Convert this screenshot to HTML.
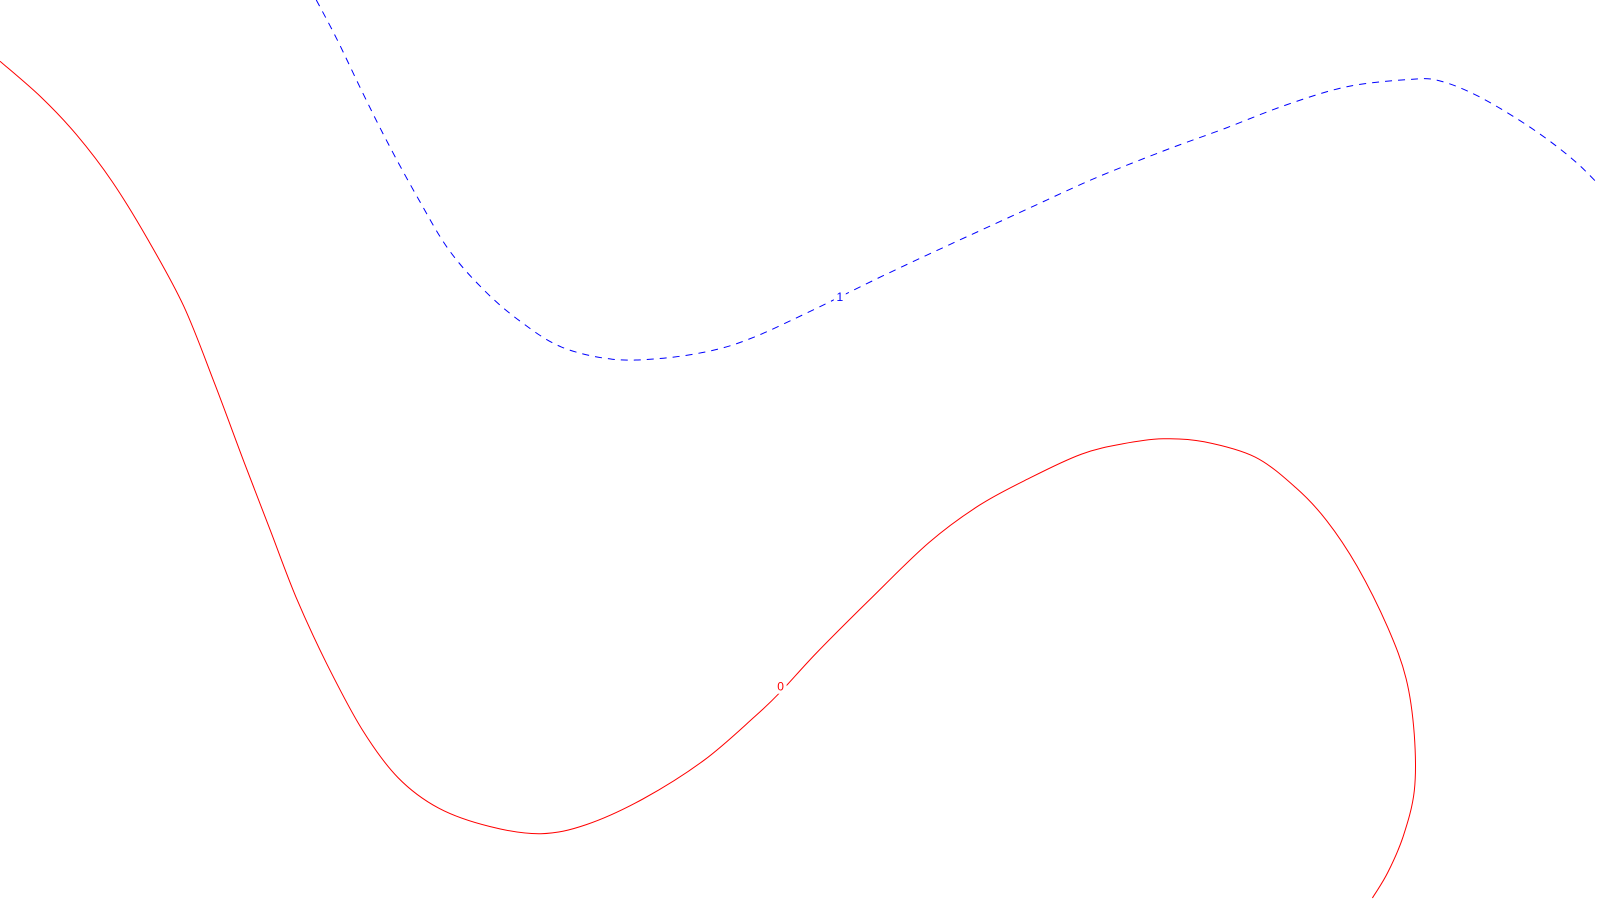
<!DOCTYPE html>
<html>
<head>
<meta charset="utf-8">
<style>
html,body{margin:0;padding:0;background:#fff;}
svg{display:block;}
text{font-family:"Liberation Sans",sans-serif;font-size:12px;}
</style>
</head>
<body>
<svg id="chart" width="1600" height="900" viewBox="0 0 1600 900"></svg>
<script>
// Contour level labels
const levelLabels = ["0", "1"];
// Contour 0 (red) — x values, y values (y measured upward from bottom)
const level0X = [0,40,75,110,145,180,210,240,265,290,320,355,390,430,480,530,575,630,690,740,765,800,850,910,960,1010,1060,1100,1140,1180,1230,1270,1300,1330,1360,1378,1386,1386,1375,1360,1345];
const level0Y = [822,787,750,704,647,582,507,427,362,297,232,167,120,90,72,65,74,99,137,180,204,242,292,350,387,414,437,447,452,449,434,404,372,327,267,217,162,107,62,27,2];
// Contour 1 (blue dashed)
const level1X = [310,330,355,380,410,440,475,510,550,600,650,700,740,790,823,870,930,1000,1070,1140,1200,1260,1320,1380,1410,1450,1500,1540,1566];
const level1Y = [882,844,792,742,687,637,597,567,542,530,531,539,552,575,591,614,642,674,706,734,756,779,797,804,803,787,757,727,702];
// Label positions (data coords)
const labelPos0 = [765, 209];
const labelPos1 = [823, 591];

const svg = document.getElementById('chart');
const NS = 'http://www.w3.org/2000/svg';
const K = 1600 / 1568;
const xScale = v => v * K;
const yScale = v => (882 - v) * K;

function smoothPath(xs, ys){
  const p = xs.map((x,i)=>[xScale(x), yScale(ys[i])]);
  let d = 'M' + p[0][0].toFixed(1) + ',' + p[0][1].toFixed(1);
  for(let i=0;i<p.length-1;i++){
    const p0=p[Math.max(i-1,0)], p1=p[i], p2=p[i+1], p3=p[Math.min(i+2,p.length-1)];
    const c1x=p1[0]+(p2[0]-p0[0])/6, c1y=p1[1]+(p2[1]-p0[1])/6;
    const c2x=p2[0]-(p3[0]-p1[0])/6, c2y=p2[1]-(p3[1]-p1[1])/6;
    d += ' C'+c1x.toFixed(1)+','+c1y.toFixed(1)+' '+c2x.toFixed(1)+','+c2y.toFixed(1)+' '+p2[0].toFixed(1)+','+p2[1].toFixed(1);
  }
  return d;
}

const l0 = document.createElementNS(NS,'path');


l0.setAttribute('d', smoothPath(level0X, level0Y));
l0.setAttribute('fill','none');
l0.setAttribute('stroke','#ff0000');
l0.setAttribute('stroke-width','1');
svg.appendChild(l0);

const l1 = document.createElementNS(NS,'path');


l1.setAttribute('d', smoothPath(level1X, level1Y));
l1.setAttribute('fill','none');
l1.setAttribute('stroke','#0000ff');
l1.setAttribute('stroke-width','1');
l1.setAttribute('stroke-dasharray','7,6');
svg.appendChild(l1);

function addLabel(pos, txt, color, name){
  const bg = document.createElementNS(NS,'rect');
  
  
  bg.setAttribute('x', xScale(pos[0]) - 6);
  bg.setAttribute('y', yScale(pos[1]) - 7);
  bg.setAttribute('width', 12);
  bg.setAttribute('height', 14);
  bg.setAttribute('fill', '#fff');
  svg.appendChild(bg);
  const t = document.createElementNS(NS,'text');
  
  
  t.setAttribute('x', xScale(pos[0]));
  t.setAttribute('y', yScale(pos[1]) + 4);
  t.setAttribute('text-anchor','middle');
  t.setAttribute('fill', color);
  t.textContent = txt;
  svg.appendChild(t);
}
addLabel(labelPos0, levelLabels[0], '#ff0000', 'contour-label-0');
addLabel(labelPos1, levelLabels[1], '#0000ff', 'contour-label-1');
</script>
</body>
</html>
